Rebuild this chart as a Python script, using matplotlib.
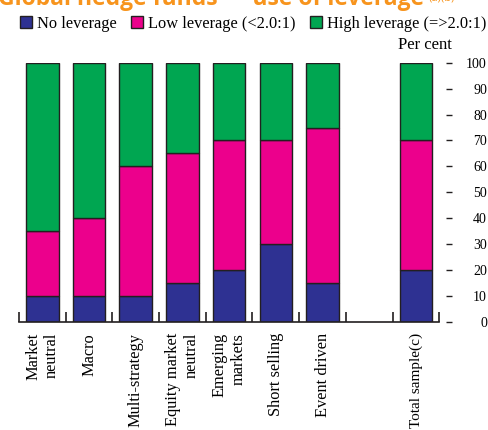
import matplotlib
matplotlib.use("Agg")
import matplotlib.pyplot as plt
from matplotlib.patches import Patch
import numpy as np

# Data (per cent of funds)
categories = ["Market\nneutral", "Macro", "Multi-strategy", "Equity market\nneutral",
              "Emerging\nmarkets", "Short selling", "Event driven", "", "Total sample(c)"]
no_leverage = [10, 10, 10, 15, 20, 30, 15, np.nan, 20]
low_leverage = [25, 30, 50, 50, 50, 40, 60, np.nan, 50]
high_leverage = [65, 60, 40, 35, 30, 30, 25, np.nan, 30]
series_names = ["No leverage", "Low leverage (<2.0:1)", "High leverage (=>2.0:1)"]
yticks = list(range(0, 101, 10))

colors = ["#2E3192", "#EC008C", "#00A651"]
edge = "#231F20"

plt.rcParams["font.family"] = ["Liberation Serif", "DejaVu Serif"]

fig = plt.figure(figsize=(4.89, 4.30), dpi=100)
ax = fig.add_axes([19 / 489, 1 - 322 / 430, (439.3 - 19) / 489, (322 - 62.7) / 430])

x = np.arange(len(categories))
bottom = np.zeros(len(categories))
for vals, col in zip([no_leverage, low_leverage, high_leverage], colors):
    v = np.array(vals, dtype=float)
    ax.bar(x, v, width=0.7, bottom=bottom, color=col, edgecolor=edge, linewidth=1.0)
    bottom = bottom + np.nan_to_num(v)

ax.set_xlim(-0.5, len(categories) - 0.5)
ax.set_ylim(0, 100)

# bottom axis: ticks at slot boundaries, labels at centres
ax.set_xticks(np.arange(-0.5, len(categories)), minor=False)
ax.set_xticklabels([])
ax.tick_params(axis="x", which="major", direction="in", length=7, width=1.2, color=edge)
ax.set_xticks(x, minor=True)
ax.set_xticklabels(categories, minor=True, rotation=90, fontsize=11.8,
                   va="top", ha="center", multialignment="right")
ax.tick_params(axis="x", which="minor", length=0, pad=8)
ax.get_xticklabels(minor=True)[-1].set_fontsize(11)

# right axis, ticks detached from the plot
ax.yaxis.tick_right()
ax.set_yticks(yticks)
ax.set_yticklabels([str(t) for t in yticks], fontsize=12.5)
ax.spines["right"].set_position(("outward", 5))
ax.tick_params(axis="y", direction="out", length=4.3, width=1.0, color=edge, pad=25)
for lab in ax.get_yticklabels():
    lab.set_horizontalalignment("right")

for side in ["top", "left", "right"]:
    ax.spines[side].set_visible(False)
ax.spines["bottom"].set_linewidth(1.2)
ax.spines["bottom"].set_color(edge)

fig.text(452 / 489, 1 - 45 / 430, "Per cent", ha="right", va="center", fontsize=12)

handles = [Patch(facecolor=c, edgecolor=edge, linewidth=1.0) for c in colors]
fig.legend(handles, series_names, loc="center left", bbox_to_anchor=(20 / 489, 1 - 24 / 430),
           ncol=3, frameon=False, fontsize=11.8, handlelength=0.75, handleheight=0.75,
           handletextpad=0.3, columnspacing=0.85, borderpad=0, borderaxespad=0)

fig.text(-0.005, 1 - 5 / 430, "Global hedge funds \u2014 use of leverage",
         ha="left", va="baseline", fontsize=16.5, fontweight="bold", color="#F7941D",
         family=["Open Sans", "DejaVu Sans"])
fig.text(429 / 489, 1 - 1 / 430, "(a)(b)", ha="left", va="baseline", fontsize=8,
         color="#F7941D", family=["Open Sans", "DejaVu Sans"])

fig.savefig("out.png", dpi=100)
